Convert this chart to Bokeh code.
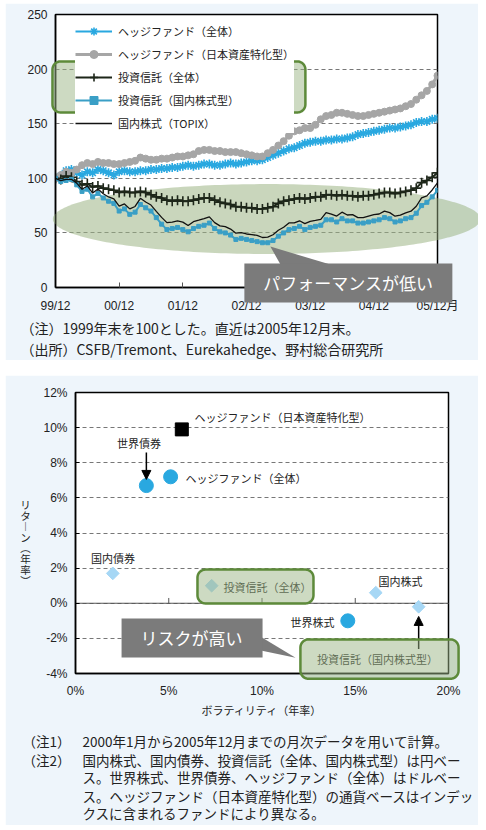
import numpy as np
from bokeh.plotting import figure
from bokeh.models import (Legend, LegendItem, PolyAnnotation, Label,
                          Span, Arrow, NormalHead, FixedTicker, ColumnDataSource)
from bokeh.core.properties import value
from bokeh.embed import file_html
from bokeh.resources import INLINE

# ---------------- top chart data (end of Dec 1999 = 100, monthly) ----------------
month_index = list(range(73))
tick_months = [0, 12, 24, 36, 48, 60, 72]
tick_labels = ["99/12", "00/12", "01/12", "02/12", "03/12", "04/12", "05/12月"]
y_ticks_top = [0, 50, 100, 150, 200, 250]

hedge_all = [100,
             102, 107, 108, 105, 103, 106, 105, 108, 107, 105, 103, 106,
             107, 106, 106, 107, 107, 108, 108, 109, 109, 110, 110, 111,
             112, 111, 112, 113, 113, 112, 112, 113, 114, 113, 114, 115,
             116, 116, 117, 119, 121, 123, 125, 127, 128, 130, 132, 133,
             134, 134, 135, 135, 136, 136, 137, 138, 140, 141, 142, 143,
             144, 145, 146, 146, 147, 148, 149, 151, 152, 152, 154, 155]
hedge_japan = [100,
               103, 106, 105, 108, 112, 114, 113, 115, 114, 114, 113, 113,
               114, 115, 116, 119, 118, 117, 117, 118, 118, 119, 120, 120,
               121, 122, 125, 126, 126, 125, 125, 124, 124, 124, 123, 122,
               121, 120, 120, 123, 126, 130, 134, 139, 143, 144, 146, 146,
               149, 154, 157, 158, 160, 160, 159, 158, 157, 157, 158, 159,
               160, 161, 162, 163, 164, 166, 168, 172, 176, 180, 186, 194]
fund_all = [100,
            99, 102, 101, 97, 94, 95, 92, 93, 91, 90, 89, 87,
            88, 87, 87, 88, 87, 85, 83, 82, 80, 79, 80, 79,
            79, 80, 81, 82, 82, 80, 78, 77, 76, 74, 74, 73,
            73, 72, 72, 73, 74, 77, 79, 80, 81, 82, 81, 82,
            83, 83, 85, 85, 84, 85, 84, 84, 83, 84, 84, 85,
            86, 87, 87, 86, 87, 88, 89, 91, 96, 98, 101, 105]
fund_jp_equity = [100,
                  97, 98, 99, 94, 88, 90, 83, 86, 82, 79, 77, 70,
                  72, 67, 69, 76, 73, 70, 64, 58, 53, 54, 55, 53,
                  51, 54, 56, 57, 59, 54, 51, 50, 48, 44, 45, 44,
                  43, 42, 41, 41, 43, 47, 50, 53, 54, 56, 53, 55,
                  56, 57, 62, 62, 60, 63, 61, 61, 59, 59, 60, 61,
                  62, 64, 63, 60, 61, 63, 64, 68, 75, 78, 83, 89]
topix = [100,
         97.8, 99.1, 99.1, 95.6, 90.0, 93.0, 86.5, 90.3, 85.8, 82.9, 81.2, 74.5,
         76.5, 72.0, 74.2, 81.7, 78.3, 75.5, 69.7, 64.2, 59.4, 59.9, 61.0, 59.9,
         56.8, 60.3, 61.6, 63.1, 64.7, 59.4, 56.4, 55.7, 53.5, 49.7, 50.2, 49.0,
         48.4, 47.7, 45.8, 46.1, 48.3, 52.4, 55.2, 59.1, 59.1, 61.1, 58.5, 60.6,
         61.4, 62.4, 68.5, 67.1, 65.4, 69.0, 66.4, 66.7, 64.0, 63.9, 65.4, 66.8,
         67.3, 70.0, 68.6, 65.3, 66.2, 68.4, 69.9, 74.4, 82.0, 83.9, 89.3, 95.8]
series_labels = ["ヘッジファンド（全体）", "ヘッジファンド（日本資産特化型）",
                 "投資信託（全体）", "投資信託（国内株式型）", "国内株式（TOPIX）"]
top_notes = ["（注）1999年末を100とした。直近は2005年12月末。",
             "（出所）CSFB/Tremont、Eurekahedge、野村総合研究所"]

# ---------------- bottom chart data (annualised, %) ----------------
asset_names = ["ヘッジファンド（日本資産特化型）", "ヘッジファンド（全体）", "世界債券", "国内債券",
               "投資信託（全体）", "国内株式", "投資信託（国内株式型）", "世界株式"]
volatility = [5.7, 5.1, 3.8, 2.0, 7.3, 16.1, 18.4, 14.6]
annual_return = [9.9, 7.2, 6.7, 1.7, 1.0, 0.6, -0.2, -1.0]
asset_kind = ["hf_japan", "usd", "usd", "jpy", "jpy", "jpy", "jpy", "usd"]
x_ticks_bottom = [0, 5, 10, 15, 20]
y_ticks_bottom = [-4, -2, 0, 2, 4, 6, 8, 10, 12]
inner_ticks_bottom = [5, 10, 15]
note_heads = ["（注1）", "（注2）"]
note_lines = ["2000年1月から2005年12月までの月次データを用いて計算。",
              "国内株式、国内債券、投資信託（全体、国内株式型）は円ベー",
              "ス。世界株式、世界債券、ヘッジファンド（全体）はドルベー",
              "ス。ヘッジファンド（日本資産特化型）の通貨ベースはインデッ",
              "クスに含まれるファンドにより異なる。"]

# ---------------- styles ----------------
JP = "Noto Sans CJK JP"
NUM = "Liberation Sans, Noto Sans CJK JP"
PANEL = "#eef5fb"
GREEN_FILL = "#9cb585"
GREEN_LINE = "#5d8a3a"
CALLOUT = "#7b7b7b"
TXT = "#222222"


def rounded_rect(left, right, bottom, top, rx, ry, n=10):
    """Outline of a rounded rectangle (decoration shape) in data units."""
    xs, ys = [], []
    corners = [(right - rx, top - ry, 0.0), (left + rx, top - ry, 0.5 * np.pi),
               (left + rx, bottom + ry, np.pi), (right - rx, bottom + ry, 1.5 * np.pi)]
    for cx, cy, a0 in corners:
        t = np.linspace(a0, a0 + 0.5 * np.pi, n)
        xs += list(cx + rx * np.cos(t))
        ys += list(cy + ry * np.sin(t))
    return xs, ys


# ================= top figure =================
p1 = figure(width=473, height=357, x_range=(0, 72), y_range=(0, 250),
            output_backend="svg", toolbar_location=None,
            min_border_left=50, min_border_right=41, min_border_top=11, min_border_bottom=73)
p1.margin = (3, 0, 0, 5)
p1.border_fill_color = PANEL
p1.background_fill_color = "white"
p1.outline_line_color = "black"
p1.outline_line_width = 1.5
p1.xgrid.visible = False
p1.ygrid.ticker = FixedTicker(ticks=y_ticks_top)
p1.ygrid.grid_line_color = "#777777"
p1.ygrid.grid_line_dash = "4 3"
p1.ygrid.grid_line_width = 1

p1.xaxis.ticker = FixedTicker(ticks=tick_months)
p1.xaxis.major_label_overrides = {m: t for m, t in zip(tick_months, tick_labels)}
p1.yaxis.ticker = FixedTicker(ticks=y_ticks_top)
for ax in (p1.xaxis, p1.yaxis):
    ax.axis_line_color = "black"
    ax.axis_line_width = 1.5
    ax.minor_tick_line_color = None
    ax.major_label_text_font = NUM
    ax.major_label_text_font_size = "12px"
    ax.major_label_text_color = TXT
p1.xaxis.major_tick_in = 5
p1.xaxis.major_tick_out = 0
p1.xaxis.major_tick_line_color = "#555555"
p1.xaxis.major_label_standoff = 11
p1.yaxis.major_tick_in = 0
p1.yaxis.major_tick_out = 0
p1.yaxis.major_label_standoff = 8

# green ellipse highlight (behind the lines, inside the frame)
EC_X, EC_Y, EA, EB = 39.8, 62.7, 40.3, 32.0
theta = np.linspace(0, 2 * np.pi, 240)
p1.add_layout(PolyAnnotation(xs=list(EC_X + EA * np.cos(theta)), ys=list(EC_Y + EB * np.sin(theta)),
                             fill_color=GREEN_FILL, fill_alpha=0.55, line_alpha=0, level="underlay"))
# the parts of the ellipse that stick out of the frame (left and right caps)
for t0, edge in ((-0.5 * np.pi, 72), (0.5 * np.pi, 0)):
    t = np.linspace(t0, t0 + np.pi, 200)
    cx, cy = EC_X + EA * np.cos(t), EC_Y + EB * np.sin(t)
    keep = cx > edge if edge == 72 else cx < edge
    if keep.any():
        p1.patch(list(np.r_[edge, cx[keep], edge]), list(np.r_[cy[keep][0], cy[keep], cy[keep][-1]]),
                 fill_color=GREEN_FILL, fill_alpha=0.55, line_alpha=0, level="overlay")

r_hf_l = p1.line(month_index, hedge_all, line_color="#29a8e0", line_width=2)
r_hf_m = p1.scatter(month_index, hedge_all, marker="asterisk", size=9, line_color="#29a8e0", line_width=1.6)
r_hj_l = p1.line(month_index, hedge_japan, line_color="#a6a6a6", line_width=3)
r_hj_m = p1.scatter(month_index, hedge_japan, marker="circle", size=7, fill_color="#a6a6a6", line_color="#a6a6a6")
r_fa_l = p1.line(month_index, fund_all, line_color="#1d2619", line_width=2)
r_fa_m = p1.scatter(month_index, fund_all, marker="cross", size=10, line_color="#1d2619", line_width=1.6)
r_fj_l = p1.line(month_index, fund_jp_equity, line_color="#3a9fc6", line_width=2)
r_fj_m = p1.scatter(month_index, fund_jp_equity, marker="square", size=4, fill_color="#3a9fc6", line_color="#3a9fc6")
r_tp_l = p1.line(month_index, topix, line_color="#111111", line_width=1.3)

legend = Legend(items=[LegendItem(label=series_labels[0], renderers=[r_hf_l, r_hf_m]),
                       LegendItem(label=series_labels[1], renderers=[r_hj_l, r_hj_m]),
                       LegendItem(label=series_labels[2], renderers=[r_fa_l, r_fa_m]),
                       LegendItem(label=series_labels[3], renderers=[r_fj_l, r_fj_m]),
                       LegendItem(label=series_labels[4], renderers=[r_tp_l])],
                location=(20, 154), padding=0, margin=0, spacing=3,
                glyph_width=37, glyph_height=20, label_height=20, label_standoff=6,
                label_text_font=JP, label_text_font_size="11px", label_text_color=TXT,
                background_fill_color="white", background_fill_alpha=1, border_line_alpha=0)
p1.add_layout(legend)

# green highlight box over the fund legend entries
gx, gy = rounded_rect(-0.57, 47.1, 160.3, 207.0, 1.5, 7.3)
p1.patch(gx, gy, fill_color=GREEN_FILL, fill_alpha=0.5, line_color=GREEN_LINE,
         line_width=2.5, level="overlay")

# callout "performance is low"
p1.patch([40.5, 42.4, 51.8], [37.5, 21.0, 21.0], fill_color=CALLOUT, line_alpha=0, level="overlay")
p1.quad(left=[35.6], right=[74.8], top=[22.0], bottom=[-13.7], fill_color=CALLOUT,
        line_alpha=0, level="overlay")
p1.text(x=[55.2], y=[4.6], text=["パフォーマンスが低い"], text_align="center",
        text_baseline="middle", text_color="white", text_font=value(JP),
        text_font_size="17px", level="overlay")

# notes below the chart
p1.text(x=[-6.6, -6.6], y=[-37.5, -55.9], text=top_notes, text_baseline="middle",
        text_font=value(JP), text_font_size="14px", text_color=TXT, level="overlay")

# ================= bottom figure =================
p2 = figure(width=473, height=450, x_range=(0, 20), y_range=(-4, 12),
            output_backend="svg", toolbar_location=None,
            min_border_left=70, min_border_right=30, min_border_top=17, min_border_bottom=152)
p2.margin = (15, 0, 0, 5)
p2.border_fill_color = PANEL
p2.background_fill_color = "white"
p2.outline_line_color = "black"
p2.outline_line_width = 1.5
p2.xgrid.visible = False
p2.ygrid.ticker = FixedTicker(ticks=y_ticks_bottom)
p2.ygrid.grid_line_color = "#777777"
p2.ygrid.grid_line_dash = "4 3"
p2.xaxis.ticker = FixedTicker(ticks=x_ticks_bottom)
p2.xaxis.major_label_overrides = {v: f"{v}%" for v in x_ticks_bottom}
p2.yaxis.ticker = FixedTicker(ticks=y_ticks_bottom)
p2.yaxis.major_label_overrides = {v: f"{v}%" for v in y_ticks_bottom}
for ax in (p2.xaxis, p2.yaxis):
    ax.axis_line_color = "black"
    ax.axis_line_width = 1.5
    ax.minor_tick_line_color = None
    ax.major_tick_out = 0
    ax.major_label_text_font = NUM
    ax.major_label_text_font_size = "12px"
    ax.major_label_text_color = TXT
p2.xaxis.major_tick_in = 0
p2.xaxis.major_label_standoff = 10
p2.yaxis.major_tick_in = 4
p2.yaxis.major_label_standoff = 8
p2.xaxis.axis_label = "ボラティリティ（年率）"
p2.xaxis.axis_label_text_font = JP
p2.xaxis.axis_label_text_font_style = "normal"
p2.xaxis.axis_label_text_font_size = "11px"
p2.xaxis.axis_label_text_color = TXT
p2.xaxis.axis_label_standoff = 1

p2.add_layout(Span(location=0, dimension="width", line_color="#555555", line_width=1, level="underlay"))
p2.segment(x0=inner_ticks_bottom, y0=[0] * len(inner_ticks_bottom),
           x1=inner_ticks_bottom, y1=[0.3] * len(inner_ticks_bottom),
           line_color="#555555", line_width=1)

kind_style = {"hf_japan": ("square", "#000000", 13, 0.0),
              "usd": ("circle", "#29a8e0", 14, 0.0),
              "jpy": ("square", "#a6d7f5", 9, np.pi / 4)}
src = ColumnDataSource(dict(
    x=volatility, y=annual_return, name=asset_names,
    marker=[kind_style[k][0] for k in asset_kind],
    color=[kind_style[k][1] for k in asset_kind],
    size=[kind_style[k][2] for k in asset_kind],
    angle=[kind_style[k][3] for k in asset_kind]))
p2.scatter("x", "y", source=src, marker="marker", fill_color="color", line_color="color",
           size="size", angle="angle")


def lab(x, y, text, align="left", size="11px"):
    p2.add_layout(Label(x=x, y=y, text=text, text_align=align, text_baseline="middle",
                        text_font=JP, text_font_size=size, text_color=TXT))


lab(6.38, 10.58, asset_names[0])
lab(5.9, 7.16, asset_names[1])
lab(3.4, 9.1, asset_names[2], "center")
lab(2.01, 2.6, asset_names[3], "center")
lab(7.94, 0.95, asset_names[4])
lab(17.43, 1.24, asset_names[5], "center")
lab(16.19, -3.15, asset_names[6], "center")
lab(13.89, -1.04, asset_names[7], "right")

p2.add_layout(Arrow(end=NormalHead(size=9, fill_color="black", line_color="black"),
                    x_start=3.8, y_start=8.58, x_end=3.8, y_end=7.05,
                    line_color="black", line_width=1.5))
p2.add_layout(Arrow(end=NormalHead(size=9, fill_color="black", line_color="black"),
                    x_start=18.4, y_start=-2.6, x_end=18.4, y_end=-0.75,
                    line_color="black", line_width=1.5))

# green highlight boxes
for box in ((6.54, 12.76, -0.01, 1.92), (12.06, 20.54, -4.3, -2.06)):
    bx, by = rounded_rect(*box, 0.43, 0.46)
    p2.patch(bx, by, fill_color=GREEN_FILL, fill_alpha=0.5, line_color=GREEN_LINE,
             line_width=2.5, level="overlay")

# callout "risk is high"
p2.patch([10.0, 10.0, 11.8], [-1.95, -2.7, -3.1], fill_color=CALLOUT, line_alpha=0, level="overlay")
p2.quad(left=[2.47], right=[10.03], top=[-0.87], bottom=[-3.09], fill_color=CALLOUT,
        line_alpha=0, level="overlay")
p2.text(x=[6.22], y=[-1.95], text=["リスクが高い"], text_align="center",
        text_baseline="middle", text_color="white", text_font=value(JP),
        text_font_size="17px", level="overlay")

# vertical y-axis title
p2.text(x=[-2.68], y=[3.46], text=["リ\nタ\n︱\nン\n︵\n年\n率\n︶"], text_align="center",
        text_baseline="middle", text_font=value(JP), text_font_size="10.5px",
        text_line_height=0.72, text_color=TXT, level="overlay")

# notes
p2.text(x=[-2.84, -2.84], y=[-7.87, -8.9], text=note_heads, text_baseline="middle",
        text_font=value(JP), text_font_size="13.5px", text_color=TXT, level="overlay")
p2.text(x=[0.375] * 5, y=[-7.87, -8.9, -9.92, -10.95, -11.97], text=note_lines,
        text_baseline="middle", text_font=value(JP), text_font_size="13.5px",
        text_color=TXT, level="overlay")

open("out.html", "w").write(file_html([p1, p2], INLINE))
